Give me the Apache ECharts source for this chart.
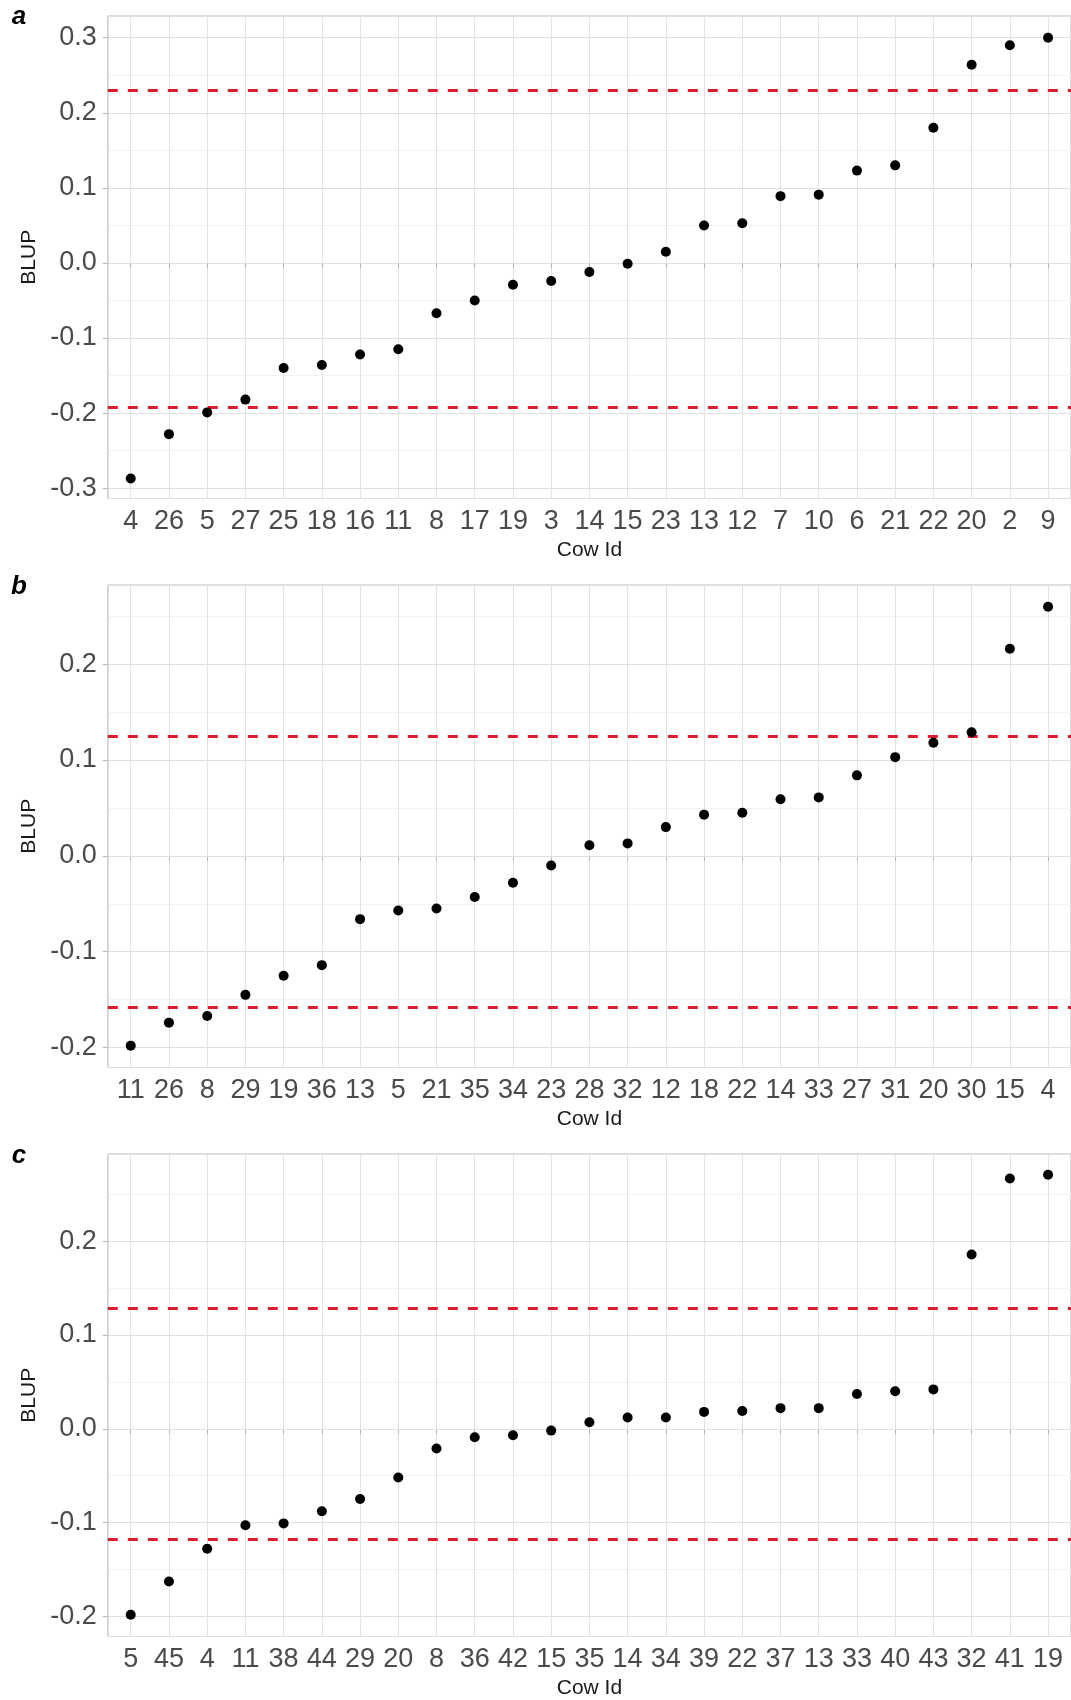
<!DOCTYPE html>
<html>
<head>
<meta charset="utf-8">
<script src="https://cdn.jsdelivr.net/npm/echarts@6/dist/echarts.min.js"></script>
<style>
html,body{margin:0;padding:0;background:#fff;}
#chart{width:1071px;height:1700px;}
</style>
</head>
<body>
<div id="chart"></div>
<script>
// ---- data ----
const catsA = ['4','26','5','27','25','18','16','11','8','17','19','3','14','15','23','13','12','7','10','6','21','22','20','2','9'];
const blupA = [-0.287,-0.228,-0.199,-0.182,-0.140,-0.136,-0.122,-0.115,-0.067,-0.050,-0.029,-0.024,-0.012,-0.001,0.015,0.050,0.053,0.089,0.091,0.123,0.130,0.180,0.264,0.290,0.300];
const thrA = [0.230, -0.192];
const yLimA = [-0.3137, 0.3289];

const catsB = ['11','26','8','29','19','36','13','5','21','35','34','23','28','32','12','18','22','14','33','27','31','20','30','15','4'];
const blupB = [-0.198,-0.174,-0.167,-0.145,-0.125,-0.114,-0.066,-0.057,-0.055,-0.043,-0.028,-0.010,0.011,0.013,0.030,0.043,0.045,0.059,0.061,0.084,0.103,0.118,0.129,0.216,0.260];
const thrB = [0.1246, -0.1577];
const yLimB = [-0.2208, 0.2826];

const catsC = ['5','45','4','11','38','44','29','20','8','36','42','15','35','14','34','39','22','37','13','33','40','43','32','41','19'];
const blupC = [-0.1985,-0.163,-0.128,-0.103,-0.101,-0.088,-0.075,-0.052,-0.021,-0.009,-0.007,-0.002,0.007,0.012,0.012,0.018,0.019,0.022,0.022,0.037,0.040,0.042,0.186,0.267,0.271];
const thrC = [0.1286, -0.1178];
const yLimC = [-0.2217, 0.2932];

const panelLetters = ['a','b','c'];
const xTitle = 'Cow Id';
const yTitle = 'BLUP';

// ---- layout / style ----
const FONT = '"Liberation Sans", Arial, Helvetica, sans-serif';
const panels = [
  {cats: catsA, vals: blupA, thr: thrA, ylim: yLimA, top: 16,   letterY: 17},
  {cats: catsB, vals: blupB, thr: thrB, ylim: yLimB, top: 585,  letterY: 587},
  {cats: catsC, vals: blupC, thr: thrC, ylim: yLimC, top: 1154, letterY: 1156}
];
const GRID_LEFT = 107.8, GRID_W = 966.9, GRID_H = 482.5;

const grid = [], xAxis = [], yAxis = [], series = [], graphic = [];
panels.forEach((p, k) => {
  grid.push({left: GRID_LEFT, width: GRID_W, top: p.top, height: GRID_H,
             show: true, borderColor: '#B8B8B8', borderWidth: 1, backgroundColor: 'transparent'});
  const cats = p.cats;
  xAxis.push({
    type: 'value', gridIndex: k, min: -0.6, max: cats.length - 1 + 0.6,
    minInterval: 1, maxInterval: 1, splitNumber: cats.length,
    axisLine: {show: false},
    axisTick: {show: true, length: 5, lineStyle: {color: '#B3B3B3', width: 1}},
    axisLabel: {
      show: true, margin: 10, fontSize: 27, color: '#4A4A4A', fontFamily: FONT,
      showMinLabel: false, showMaxLabel: false,
      formatter: v => { const r = Math.round(v); return Math.abs(v - r) < 1e-6 && r >= 0 && r < cats.length ? cats[r] : ''; }
    },
    splitLine: {show: true, lineStyle: {color: '#E2E2E2', width: 1}},
    name: xTitle, nameLocation: 'middle', nameGap: 41,
    nameTextStyle: {fontSize: 21, color: '#1A1A1A', fontFamily: FONT}
  });
  // minor gridlines axis
  yAxis.push({
    type: 'value', gridIndex: k, min: p.ylim[0], max: p.ylim[1],
    minInterval: 0.05, maxInterval: 0.05, splitNumber: 12, z: 0,
    axisLine: {show: false}, axisTick: {show: false}, axisLabel: {show: false},
    splitLine: {show: true, lineStyle: {color: '#F1F1F1', width: 1}}
  });
  // main axis
  yAxis.push({
    type: 'value', gridIndex: k, min: p.ylim[0], max: p.ylim[1], position: 'left',
    minInterval: 0.1, maxInterval: 0.1, splitNumber: 6, z: 1,
    axisLine: {show: false},
    axisTick: {show: true, length: 5, lineStyle: {color: '#B3B3B3', width: 1}},
    axisLabel: {show: true, margin: 11, fontSize: 27, color: '#4A4A4A', fontFamily: FONT,
                showMinLabel: false, showMaxLabel: false,
                formatter: v => v.toFixed(1)},
    splitLine: {show: true, lineStyle: {color: '#E0E0E0', width: 1}},
    name: yTitle, nameLocation: 'middle', nameGap: 68,
    nameTextStyle: {fontSize: 21, color: '#1A1A1A', fontFamily: FONT}
  });
  series.push({
    type: 'scatter', xAxisIndex: k, yAxisIndex: 2 * k + 1,
    symbolSize: 10, itemStyle: {color: '#000', opacity: 1},
    data: p.vals.map((v, i) => [i, v]),
    z: 5,
    markLine: {
      silent: true, symbol: ['none', 'none'], label: {show: false}, precision: 4,
      lineStyle: {color: '#D81E2E', type: [10, 10], width: 3, opacity: 1},
      data: p.thr.map(t => ({yAxis: t}))
    }
  });
  graphic.push({type: 'text', z: 10, style: {
    x: 19, y: p.letterY, text: panelLetters[k], textAlign: 'center', textVerticalAlign: 'middle',
    font: 'italic bold 26px ' + FONT, fill: '#000'}});
});

const chart = echarts.init(document.getElementById('chart'), null, {renderer: 'canvas'});
chart.setOption({animation: false, backgroundColor: '#fff', grid, xAxis, yAxis, series, graphic});
</script>
</body>
</html>
